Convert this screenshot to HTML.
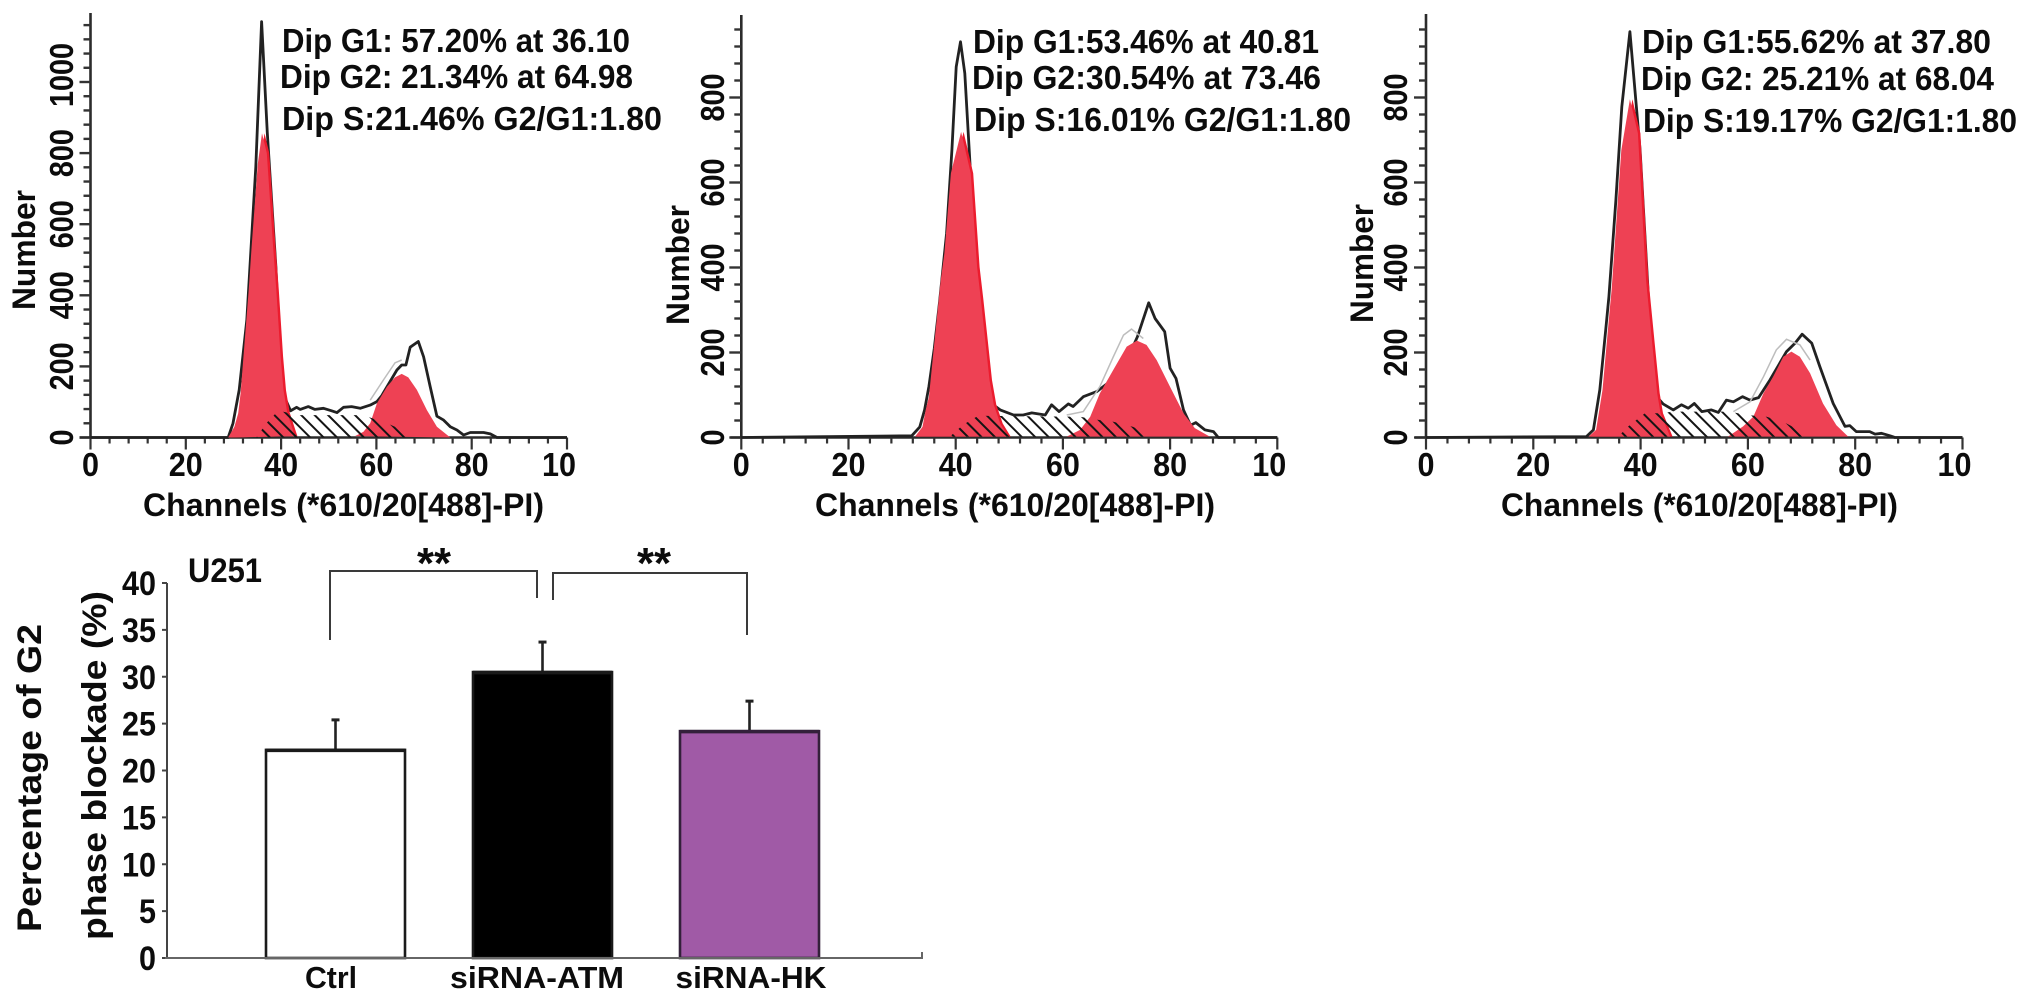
<!DOCTYPE html>
<html lang="en">
<head>
<meta charset="utf-8">
<title>Cell cycle histograms and G2 blockade bar chart</title>
<style>
  html, body { margin: 0; padding: 0; background: #fff; }
  svg { display: block; }
  text { font-family: "Liberation Sans", sans-serif; font-weight: bold; fill: #0c0c0c; }
</style>
</head>
<body>
<svg id="figure" xmlns="http://www.w3.org/2000/svg" width="2031" height="1004" viewBox="0 0 2031 1004">
  <rect width="2031" height="1004" fill="#fff"/>
  <defs>
    <pattern id="hatch" width="9.5" height="10" patternUnits="userSpaceOnUse" patternTransform="rotate(-45)">
      <line x1="5" y1="0" x2="5" y2="10" stroke="#141414" stroke-width="2"/>
    </pattern>
  </defs>

  <g id="panel1"></g>
  <g id="panel2"></g>
  <g id="panel3"></g>
  <g id="bars"></g>

  <g font-size="33">
    <text x="282" y="52" textLength="348" lengthAdjust="spacingAndGlyphs">Dip G1: 57.20% at 36.10</text>
    <text x="280" y="88" textLength="353" lengthAdjust="spacingAndGlyphs">Dip G2: 21.34% at 64.98</text>
    <text x="282" y="130" textLength="380" lengthAdjust="spacingAndGlyphs">Dip S:21.46% G2/G1:1.80</text>
  </g>
  <g font-size="33">
    <text x="973" y="53" textLength="346" lengthAdjust="spacingAndGlyphs">Dip G1:53.46% at 40.81</text>
    <text x="972" y="89" textLength="349" lengthAdjust="spacingAndGlyphs">Dip G2:30.54% at 73.46</text>
    <text x="974" y="131" textLength="377" lengthAdjust="spacingAndGlyphs">Dip S:16.01% G2/G1:1.80</text>
  </g>
  <g font-size="33">
    <text x="1642" y="53" textLength="349" lengthAdjust="spacingAndGlyphs">Dip G1:55.62% at 37.80</text>
    <text x="1641" y="90" textLength="353" lengthAdjust="spacingAndGlyphs">Dip G2: 25.21% at 68.04</text>
    <text x="1643" y="132" textLength="374" lengthAdjust="spacingAndGlyphs">Dip S:19.17% G2/G1:1.80</text>
  </g>

  <text font-size="32" transform="translate(35 310) rotate(-90)" textLength="120" lengthAdjust="spacingAndGlyphs">Number</text>
  <text font-size="32" transform="translate(689 325) rotate(-90)" textLength="120" lengthAdjust="spacingAndGlyphs">Number</text>
  <text font-size="32" transform="translate(1373 323) rotate(-90)" textLength="119" lengthAdjust="spacingAndGlyphs">Number</text>

  <text font-size="32" x="143" y="516" textLength="401" lengthAdjust="spacingAndGlyphs">Channels (*610/20[488]-PI)</text>
  <text font-size="32" x="815" y="516" textLength="400" lengthAdjust="spacingAndGlyphs">Channels (*610/20[488]-PI)</text>
  <text font-size="32" x="1501" y="516" textLength="397" lengthAdjust="spacingAndGlyphs">Channels (*610/20[488]-PI)</text>

  <text font-size="34" x="188" y="582" textLength="74" lengthAdjust="spacingAndGlyphs">U251</text>
  <text font-size="34" transform="translate(41 932) rotate(-90)" textLength="308" lengthAdjust="spacingAndGlyphs">Percentage of G2</text>
  <text font-size="34" transform="translate(106 940) rotate(-90)" textLength="349" lengthAdjust="spacingAndGlyphs">phase blockade (%)</text>

  <g fill="none" stroke="#3a3a3a" stroke-width="2">
    <path d="M330 640V571H537V598"/>
    <path d="M553 600V573H747V635"/>
  </g>
  <text font-size="44" x="417" y="578" textLength="34" lengthAdjust="spacingAndGlyphs">**</text>
  <text font-size="44" x="637" y="578" textLength="34" lengthAdjust="spacingAndGlyphs">**</text>

<script>
/* ---------- Histogram data: [channel, count] ---------- */
const xTickLabels = ["0", "20", "40", "60", "80", "10"];
const xTickValues = [0, 20, 40, 60, 80, 100];

const p1YTicks = [0, 200, 400, 600, 800, 1000];
const p1Measured = [[0,0],[28.9,0],[29.9,40],[31.2,134],[32.8,330],[34.7,761],[35.9,1170],[37.1,857],[38,668],[38.9,480],[40.1,143],[41,105],[42,75],[43.25,85],[44,79],[45.7,87],[47.1,79],[48.9,82],[50.6,75],[51.7,70],[53.1,85],[54.8,87],[56.6,82],[58.7,91],[60.1,101],[61.1,117],[64.3,190],[65.3,204],[66.2,204],[67.1,254],[68.8,270],[69.9,227],[71.3,143],[72.7,60],[74.1,49],[75.5,30],[76.9,21],[78.3,7],[79.7,14],[82.5,14],[83.9,10],[85.3,0],[100,0]];
const p1G1 = [[28.9,0],[30.2,30],[31,68],[31.5,125],[33.2,415],[33.8,536],[35.1,770],[36,856],[37,800],[38.3,541],[39,415],[39.9,227],[40.5,133],[41.3,69],[42.9,4]];
const p1G2 = [[55.5,4],[57.3,16],[58.7,40],[60.1,96],[62.2,143],[63.9,169],[65.3,179],[66.7,169],[68.5,134],[70.6,77],[72.7,30],[74.4,12],[75.5,0]];
const p1S = [[34.8,0],[36.9,40],[39.4,75],[43.9,63],[57.3,63],[59.4,53],[62.2,40],[65,24],[67.8,0]];
const p1Fit = [[58.7,105],[61.5,162],[63.9,210],[65.3,218]];

const p2YTicks = [0, 200, 400, 600, 800];
const p2Measured = [[0,0],[31.8,4],[33.3,25],[34.2,65],[35,120],[36,210],[37,320],[38.3,481],[39.3,676],[40.1,872],[40.9,931],[41.7,857],[42.7,636],[43.7,434],[45.3,213],[46.4,120],[47,77],[48.3,65],[50.8,53],[52.6,53],[54.2,58],[56.7,53],[57.9,77],[59.3,61],[61,79],[61.9,73],[63.8,96],[66.3,108],[68.3,127],[70.6,175],[72.5,198],[73.9,237],[76,317],[77.2,280],[79,249],[80,163],[81.1,139],[82.5,65],[83.8,29],[84.8,35],[86.5,18],[88.1,14],[89,0],[100,0]];
const p2G1 = [[32.4,2],[33.8,25],[34.4,65],[35,95],[36,222],[37.2,370],[37.9,434],[39.1,622],[41,719],[42.8,622],[44,401],[44.7,324],[46.3,135],[47.1,77],[48.3,33],[49.8,2]];
const p2G2 = [[60.7,2],[63.2,18],[65.1,49],[66.9,104],[69.4,159],[71.9,214],[73.8,228],[75.6,218],[77.5,182],[80,119],[82.5,57],[84.6,22],[87.4,2]];
const p2S = [[38.9,2],[41.4,30],[44.2,51],[63.2,49],[65.7,43],[69.4,37],[73.1,25],[76.9,2]];
const p2Fit = [[60.7,53],[63.8,61],[66.9,120],[69.4,190],[71.3,241],[72.8,255],[75,233]];

const p3YTicks = [0, 200, 400, 600, 800];
const p3Measured = [[0,0],[29.9,2],[31.2,18],[32.4,112],[33.5,253],[34.1,331],[35.4,559],[36.5,778],[38,955],[39.1,794],[39.9,676],[41.5,324],[43,96],[44.2,79],[46.1,65],[47.6,77],[48.9,69],[50,80],[51.4,61],[53.2,65],[54.5,59],[56,88],[57.3,84],[59,96],[60.4,88],[62,94],[64.1,135],[67.2,202],[68.8,222],[70.1,243],[71.9,222],[73.4,167],[75.9,80],[78.1,26],[79,28],[80.2,14],[82.7,14],[83.7,8],[84.9,10],[86.5,4],[87.4,0],[100,0]];
const p3G1 = [[30.3,2],[31.7,18],[32.9,112],[34.3,308],[34.6,347],[36.4,676],[38,796],[39.5,716],[41,371],[42.1,229],[43.1,104],[43.7,57],[45.5,2]];
const p3G2 = [[56.3,2],[59.1,26],[61,49],[62.9,104],[64.7,143],[66.6,190],[68.1,202],[69.7,190],[71.6,151],[74,80],[76.5,29],[78.7,2]];
const p3S = [[35.8,2],[37.7,26],[40.8,57],[43.6,57],[46.1,61],[56.6,61],[59.8,53],[63.5,49],[67.2,33],[71.9,2]];
const p3Fit = [[57.3,61],[60.4,84],[62.9,143],[65.3,206],[67.2,231],[69.7,218],[71.6,182]];

/* ---------- Bar chart data ---------- */
const barCategories = ["Ctrl", "siRNA-ATM", "siRNA-HK"];
const barValues = [22.2, 30.5, 24.2];
const barErrors = [3.2, 3.2, 3.2];
const barYTicks = [0, 5, 10, 15, 20, 25, 30, 35, 40];

const SVGNS = "http://www.w3.org/2000/svg";
function make(parent, tag, geom) {
  const el = document.createElementNS(SVGNS, tag);
  for (const k in geom) el.setAttribute(k, geom[k]);
  parent.appendChild(el);
  return el;
}
function pathFrom(points, x, y, close) {
  const d = points.map((p, i) => (i ? "L" : "M") + x(p[0]).toFixed(1) + " " + y(p[1]).toFixed(1)).join("");
  return close ? d + "Z" : d;
}

function drawHistogram(host, cfg) {
  const x = ch => cfg.x0 + ch * cfg.xScale;
  const y = n => cfg.y0 - n * cfg.yScale;

  const axisPath = make(host, "path", { d: "M" + cfg.x0 + " " + cfg.top + "V" + cfg.y0, stroke: "#2b2b2b", "stroke-width": 2.6, fill: "none" });
  
  

  for (let n = 0; y(n) >= cfg.top + 5; n += 40) {
    const major = n % 200 === 0;
    const t = make(host, "line", { x1: cfg.x0 - (major ? cfg.majorLen : 7), x2: cfg.x0, y1: y(n), y2: y(n), stroke: "#333", "stroke-width": 2.4 });
    
    
  }
  cfg.yTicks.forEach(v => {
    const s = String(v);
    const offset = s.length > 3 ? -7 : 0;
    const lab = make(host, "text", { "font-size": 33, "text-anchor": "middle", textLength: s.length * 16, lengthAdjust: "spacingAndGlyphs", transform: "translate(" + cfg.yLabelX + " " + (y(v) + offset) + ") rotate(-90)" });
    lab.textContent = s;
    
    
  });

  const xAxis = make(host, "line", { x1: cfg.x0 - 11, x2: x(100), y1: cfg.y0, y2: cfg.y0, stroke: "#2b2b2b", "stroke-width": 2.4 });
  
  
  for (let c = 0; c <= 100; c += 4) {
    const major = c % 20 === 0;
    const t = make(host, "line", { x1: x(c), x2: x(c), y1: cfg.y0, y2: cfg.y0 + (major ? 12 : 6), stroke: "#333", "stroke-width": 2.2 });
    
    
  }
  xTickValues.forEach((v, i) => {
    const anchorShift = v === 100 ? -8 : 0;
    const lab = make(host, "text", { x: x(v) + anchorShift, y: 476, "font-size": 33, "text-anchor": "middle", textLength: xTickLabels[i].length * 17, lengthAdjust: "spacingAndGlyphs" });
    lab.textContent = xTickLabels[i];
    
    
  });

  const black = make(host, "path", { d: pathFrom(cfg.measured, x, y), fill: "none", stroke: "#222", "stroke-width": 2.8, "stroke-linejoin": "round" });
  
  

  const fit = make(host, "path", { d: pathFrom(cfg.fit, x, y), fill: "none", stroke: "#bdbdbd", "stroke-width": 1.5 });
  
  

  const edge = make(host, "path", { d: pathFrom(cfg.g1, x, y, true), fill: "#ec1c2e", transform: "translate(2.5 0)" });
  
  

  const g1 = make(host, "path", { d: pathFrom(cfg.g1, x, y, true), fill: "#ee4154" });
  
  

  const g2 = make(host, "path", { d: pathFrom(cfg.g2, x, y, true), fill: "#ee4154" });
  
  

  const s = make(host, "path", { d: pathFrom(cfg.s, x, y, true), fill: "url(#hatch)" });
  
  
}

drawHistogram(document.getElementById("panel1"), { x0: 90.5, xScale: 4.765, y0: 437.5, yScale: 0.3555, top: 13, majorLen: 11, yLabelX: 73, yTicks: p1YTicks, measured: p1Measured, g1: p1G1, g2: p1G2, s: p1S, fit: p1Fit });
drawHistogram(document.getElementById("panel2"), { x0: 741.3, xScale: 5.36, y0: 437.5, yScale: 0.425, top: 15, majorLen: 12, yLabelX: 724, yTicks: p2YTicks, measured: p2Measured, g1: p2G1, g2: p2G2, s: p2S, fit: p2Fit });
drawHistogram(document.getElementById("panel3"), { x0: 1426, xScale: 5.365, y0: 437.5, yScale: 0.425, top: 14, majorLen: 12, yLabelX: 1407, yTicks: p3YTicks, measured: p3Measured, g1: p3G1, g2: p3G2, s: p3S, fit: p3Fit });

function drawBars(host) {
  const y0 = 958, unit = 9.375;
  const y = v => y0 - v * unit;
  const left = i => 266 + i * 207;
  const barW = 139;
  const labelCentres = [331, 537, 751];
  const labelWidths = [52, 174, 151];
  const fills = ["#ffffff", "#000000", "#a05aa6"];

  const yAxis = make(host, "line", { x1: 167, x2: 167, y1: y(40), y2: y0, stroke: "#444", "stroke-width": 2 });
  
  

  barYTicks.forEach(v => {
    const t = make(host, "line", { x1: 162, x2: 167, y1: y(v), y2: y(v), stroke: "#444", "stroke-width": 2 });
    
    
    const s = String(v);
    const lab = make(host, "text", { x: 156, y: y(v) + 12, "font-size": 34, "text-anchor": "end", textLength: s.length * 17, lengthAdjust: "spacingAndGlyphs" });
    lab.textContent = s;
    
    
  });

  barValues.forEach((v, i) => {
    const cx = left(i) + barW / 2;
    const stem = make(host, "line", { x1: cx, x2: cx, y1: y(v), y2: y(v + barErrors[i]), stroke: "#222", "stroke-width": 2.6 });
    
    
    const cap = make(host, "line", { x1: cx - 4, x2: cx + 4, y1: y(v + barErrors[i]), y2: y(v + barErrors[i]), stroke: "#222", "stroke-width": 3 });
    
    

    const bar = make(host, "rect", { x: left(i), y: y(v), width: barW, height: y0 - y(v), fill: fills[i], stroke: i === 2 ? "#33203a" : "#1a1a1a", "stroke-width": 2.6 });
    
    

    const topEdge = make(host, "line", { x1: left(i), x2: left(i) + barW, y1: y(v) + 0.5, y2: y(v) + 0.5, stroke: i === 2 ? "#33203a" : "#1a1a1a", "stroke-width": 3.6 });
    
    

    const lab = make(host, "text", { x: labelCentres[i], y: 988, "font-size": 31, "text-anchor": "middle", textLength: labelWidths[i], lengthAdjust: "spacingAndGlyphs" });
    lab.textContent = barCategories[i];
    
    
  });

  const xAxis = make(host, "path", { d: "M165 " + y0 + "H922V" + (y0 - 6), fill: "none", stroke: "#666", "stroke-width": 2 });
  
  
}
drawBars(document.getElementById("bars"));
</script>
</svg>
</body>
</html>
